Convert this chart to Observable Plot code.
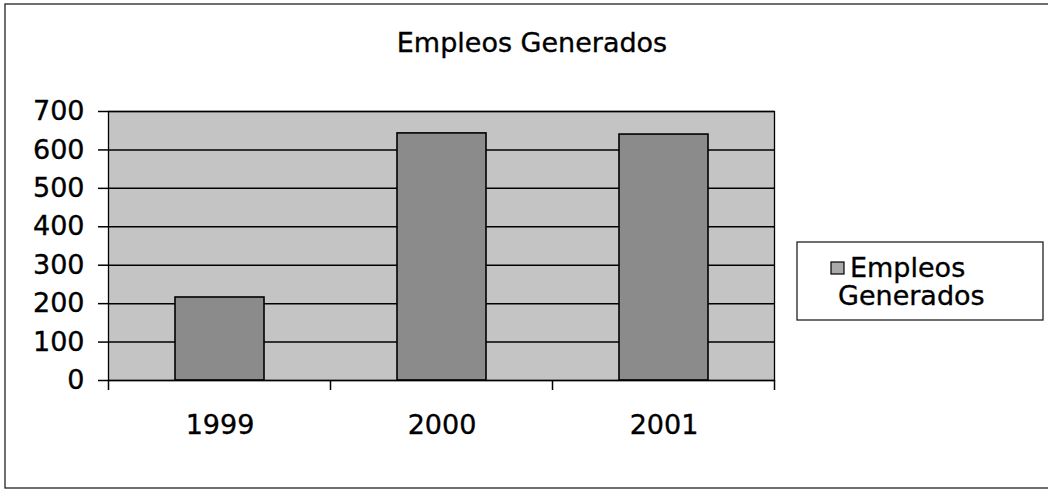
<!DOCTYPE html>
<html><head><meta charset="utf-8">
<script src="https://cdn.jsdelivr.net/npm/d3@7"></script>
<script src="https://cdn.jsdelivr.net/npm/@observablehq/plot@0.6"></script>
<style>body{margin:0;background:#fff;} #chart{position:relative;width:1048px;height:492px;overflow:hidden}</style>
</head><body><div id="chart"></div>
<script>
const years = ["1999", "2000", "2001"];
const empleos = [216, 643, 640];
const yTicks = [0, 100, 200, 300, 400, 500, 600, 700];
const seriesName = ["Empleos", "Generados"];
const titleText = "Empleos Generados";

const data = years.map((y, i) => ({year: y, value: empleos[i]}));
const font = "'DejaVu Sans', sans-serif";

const plot = Plot.plot({
  width: 1048, height: 492,
  marginLeft: 108, marginRight: 274, marginTop: 111, marginBottom: 112,
  style: {fontFamily: font, fontSize: "27px", color: "#000", background: "transparent", overflow: "visible"},
  x: {domain: years, paddingInner: 0.6, paddingOuter: 0.3},
  y: {domain: [0, 700]},
  marks: [
    Plot.frame({fill: "#c4c4c4", stroke: "none"}),
    Plot.gridY(yTicks, {stroke: "#000", strokeOpacity: 1, strokeWidth: 1.5}),
    Plot.barY(data, {x: "year", y: "value", fill: "#8b8b8b", stroke: "#000", strokeWidth: 1.6}),
    Plot.frame({stroke: "#000", strokeWidth: 1.3}),
    Plot.axisY(yTicks, {tickSize: 10, tickPadding: 14, label: null, fontSize: 27, stroke: "#000", strokeWidth: 1.5, tickFormat: d => String(d)}),
    Plot.axisX({tickSize: 0, tickPadding: 34, label: null, fontSize: 27})
  ]
});

document.getElementById("chart").appendChild(plot);
const svg = d3.select(plot);
svg.selectAll("text").attr("stroke", "#000").attr("stroke-width", 0.35);
const xs = plot.scale("x");
const ys = plot.scale("y");
const y0 = ys.apply(0);

// category boundary ticks below the x axis
const bounds = years.map(y => xs.apply(y) + xs.bandwidth / 2 - xs.step / 2);
bounds.push(xs.apply(years[years.length - 1]) + xs.bandwidth / 2 + xs.step / 2);
svg.append("g").selectAll("line").data(bounds).join("line")
  .attr("x1", d => d).attr("x2", d => d)
  .attr("y1", y0).attr("y2", y0 + 10)
  .attr("stroke", "#000").attr("stroke-width", 1.5);

// outer chart border
svg.append("rect").attr("x", 5).attr("y", 4).attr("width", 1100).attr("height", 484)
  .attr("fill", "none").attr("stroke", "#222").attr("stroke-width", 1.3);

const txt = (g, x, y, anchor, s) => g.append("text").attr("x", x).attr("y", y)
  .attr("text-anchor", anchor).attr("font-family", font).attr("font-size", 27)
  .attr("fill", "#000").attr("stroke", "#000").attr("stroke-width", 0.35).text(s);

// title
txt(svg, 532, 52, "middle", titleText);

// legend
const lg = svg.append("g");
lg.append("rect").attr("x", 797).attr("y", 242).attr("width", 246).attr("height", 78)
  .attr("fill", "#fff").attr("stroke", "#222").attr("stroke-width", 1.3);
lg.append("rect").attr("x", 831).attr("y", 262).attr("width", 13).attr("height", 12)
  .attr("fill", "#a9a9a9").attr("stroke", "#000").attr("stroke-width", 1.2);
txt(lg, 850, 277, "start", seriesName[0]);
txt(lg, 838, 305, "start", seriesName[1]);
</script>
</body></html>
